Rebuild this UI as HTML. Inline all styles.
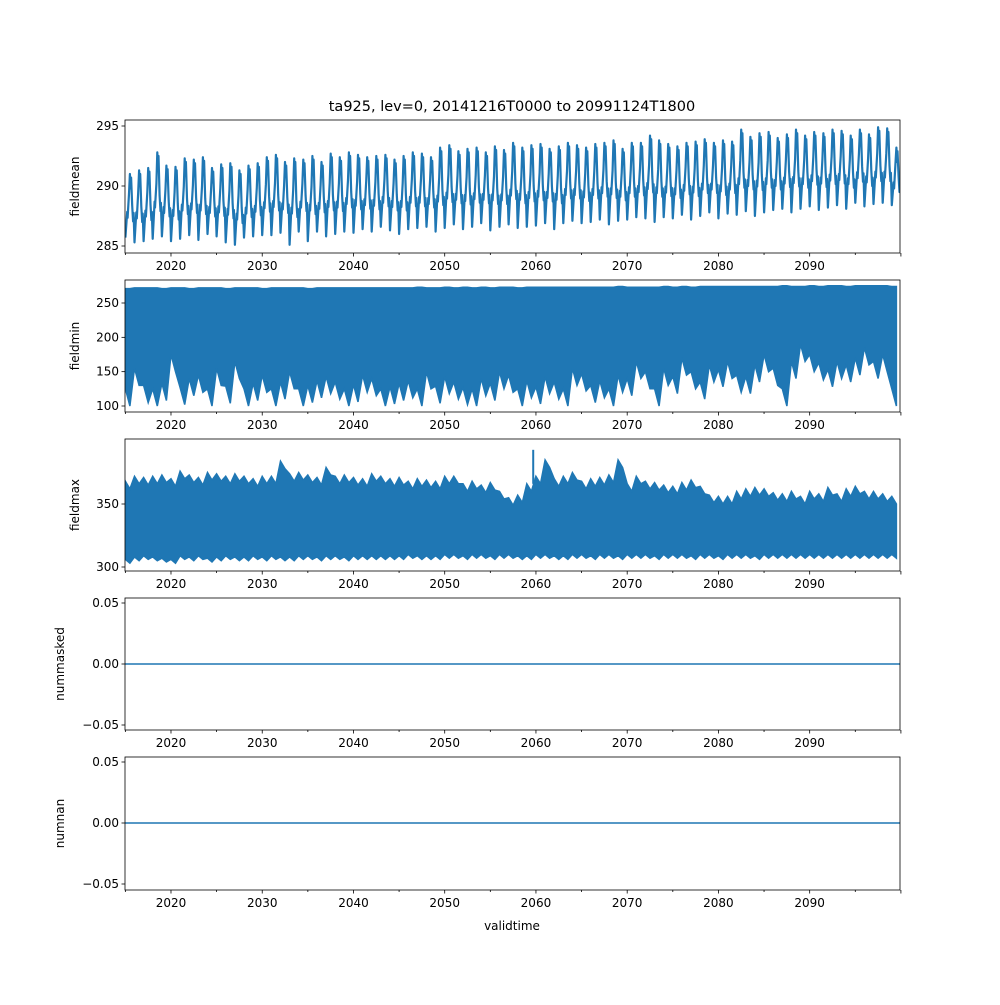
<!DOCTYPE html>
<html><head><meta charset="utf-8"><style>
body{margin:0;background:#fff;font-family:"Liberation Sans","DejaVu Sans",sans-serif}
svg text{font-family:"DejaVu Sans","Liberation Sans",sans-serif;font-size:12px;fill:#000}
</style></head><body>
<svg id="c" width="1000" height="1000" xmlns="http://www.w3.org/2000/svg">
<rect width="1000" height="1000" fill="#fff"/>
<text x="512" y="111" text-anchor="middle" style="font-size:14.5px">ta925, lev=0, 20141216T0000 to 20991124T1800</text>
<text x="512" y="930" text-anchor="middle">validtime</text>
</svg>
<script>
const years=[];for(let y=2015;y<=2099;y++)years.push(y);
const meanMax=[291,291.3,291.5,292.8,291.7,291.6,292.3,292.2,292.4,291.5,291.8,291.9,291.3,291.7,291.9,292.4,292.6,292,292.3,292.2,292.5,292,292.7,292.4,292.8,292.6,292.4,292.5,292.6,292.2,292.5,292.8,292.7,292.4,293.2,293.4,292.9,293.1,293.2,292.8,293.3,293,293.6,293.2,293.4,293.5,293.1,293.3,293.6,293.4,293.2,293.5,293.6,293.8,293.1,293.6,293.6,294.2,293.8,293.5,293.3,293.6,293.7,293.9,293.6,293.8,293.7,294.7,294.1,294.4,294.5,294,294.3,294.7,294.2,294.5,294.4,294.7,294.6,294.2,294.7,294.3,294.9,294.8,293.2];
const meanMin=[285.7,285.3,285.4,285.6,285.8,285.4,285.6,285.9,285.5,286,285.8,285.3,285.1,285.7,285.8,285.9,285.9,286.1,285.1,286.2,285.4,286.2,285.8,286,286.2,286.1,286.4,286.2,286.6,286.3,286,286.4,286.5,286.6,286.2,286.5,286.8,286.4,286.6,286.9,286.3,286.6,286.8,286.5,286.6,286.7,286.9,286.4,286.9,287.1,286.9,287,287.2,286.8,287.1,287.2,287.4,287.3,287,287.4,287.3,287.6,287.2,287.5,287.8,287.3,287.7,287.6,287.9,287.5,287.8,288,288.1,287.8,288.1,288.3,288,288.2,288.4,288.1,288.6,288.3,288.5,288.6,288.4];
const minTop=[271,272,272,272,271,272,272,271,272,272,272,271,272,272,272,271,272,272,272,272,271,272,272,272,272,272,272,272,272,272,272,272,273,272,272,273,272,273,272,273,272,273,273,272,273,273,273,273,273,273,273,273,273,273,274,273,273,273,273,274,273,274,273,274,274,274,274,274,274,274,274,274,275,274,274,275,274,275,275,274,275,275,275,275,274];
const minLow=[100,130,105,100,108,150,102,115,120,100,130,104,140,100,108,120,100,110,125,100,105,112,118,110,100,106,120,115,100,103,108,112,100,125,104,118,110,102,100,115,108,125,120,100,112,103,118,110,100,130,122,105,112,100,120,115,140,125,100,130,118,145,125,110,135,128,140,120,118,135,150,130,100,140,165,150,138,128,140,135,145,160,140,150,100];
const maxTop=[368,372,371,372,373,370,376,373,371,375,374,372,374,372,370,372,372,384,374,375,373,371,379,372,373,371,370,374,372,370,371,368,370,369,368,372,372,366,368,365,367,360,355,357,366,372,385,370,372,375,368,370,371,373,385,366,372,368,367,365,364,367,369,364,357,356,356,360,362,363,362,359,358,360,356,360,358,363,358,362,364,360,360,358,356];
const maxLow=[303,305,306,305,304,303,306,305,306,304,305,306,305,305,306,305,306,305,305,306,306,305,306,306,305,306,306,306,306,306,306,307,306,306,306,307,307,306,307,307,306,307,307,306,306,307,307,306,306,307,307,306,307,307,306,307,307,307,306,307,307,307,306,307,307,306,307,307,307,306,307,307,307,307,307,307,307,307,307,307,307,307,307,307,307];
const spikeYear=2059.7, spikeVal=393;
const xTicks=[2020,2030,2040,2050,2060,2070,2080,2090];
const NS="http://www.w3.org/2000/svg",svg=document.getElementById('c');
const X0=125,X1=900,T0=2014.96,T1=2099.9;
const xs=t=>X0+(t-T0)/(T1-T0)*(X1-X0);
function el(tag,attrs,parent){const e=document.createElementNS(NS,tag);for(const k in attrs)e.setAttribute(k,attrs[k]);(parent||svg).appendChild(e);return e;}
const panels=[
 {name:'fieldmean',top:120,bot:253,v0:285,p0:246,v1:295,p1:126,ticks:[285,290,295],lab:['285','290','295']},
 {name:'fieldmin',top:280,bot:412,v0:100,p0:406,v1:250,p1:303,ticks:[100,150,200,250],lab:['100','150','200','250']},
 {name:'fieldmax',top:439,bot:571,v0:300,p0:567,v1:350,p1:504,ticks:[300,350],lab:['300','350']},
 {name:'nummasked',top:598,bot:730,v0:-0.05,p0:725,v1:0.05,p1:603,ticks:[-0.05,0,0.05],lab:['−0.05','0.00','0.05']},
 {name:'numnan',top:757,bot:890,v0:-0.05,p0:884,v1:0.05,p1:762,ticks:[-0.05,0,0.05],lab:['−0.05','0.00','0.05']}];
panels.forEach((p,i)=>{
 const ys=v=>p.p0+(v-p.v0)/(p.v1-p.v0)*(p.p1-p.p0);
 const g=el('g',{});
 
 
 const cp=el('clipPath',{id:'cp'+i},g);el('rect',{x:X0,y:p.top,width:X1-X0,height:p.bot-p.top},cp);
 const d=el('g',{'clip-path':'url(#cp'+i+')'},g);
 
 
 if(i===0){
  let pts=[];
  years.forEach((y,k)=>{const mx=meanMax[k],mn=meanMin[k],mid=(mx+mn)/2;
   pts.push([y+0.0,mn],[y+0.2,mid-0.5],[y+0.25,mid-1],[y+0.4,mid+1],[y+0.5,mx],[y+0.58,mx-1.2],[y+0.63,mx-0.3],[y+0.75,mid],[y+0.85,mid-1.3],[y+0.9,mid-0.6]);});
  el('path',{d:'M'+pts.map(q=>xs(q[0]).toFixed(1)+','+ys(q[1]).toFixed(1)).join('L'),fill:'none',stroke:'#1f77b4','stroke-width':2.2,'stroke-linejoin':'round'},d);
 } else if(i===1||i===2){
  const top=i===1?minTop:maxTop,low=i===1?minLow:maxLow;
  let up=[],dn=[];
  years.forEach((y,k)=>{up.push([y,top[k]],[y+0.5,top[k]-(i===2?6:0)]);dn.push([y,low[k]+(i===1?25:3)],[y+0.5,low[k]]);});
  const poly=up.concat(dn.reverse());
  el('path',{d:'M'+poly.map(q=>xs(q[0]).toFixed(1)+','+ys(q[1]).toFixed(1)).join('L')+'Z',fill:'#1f77b4',stroke:'#1f77b4','stroke-width':1.5},d);
  if(i===2) el('line',{x1:xs(spikeYear),x2:xs(spikeYear),y1:ys(maxTop[44]),y2:ys(spikeVal),stroke:'#1f77b4','stroke-width':2},d);
 } else {
  el('line',{x1:X0,x2:X1,y1:ys(0),y2:ys(0),stroke:'#1f77b4','stroke-width':1.6},d);
 }
 el('rect',{x:X0,y:p.top,width:X1-X0,height:p.bot-p.top,fill:'none',stroke:'#000','stroke-width':0.8},g);
 p.ticks.forEach((t,j)=>{const y=ys(t);el('line',{x1:X0-3.5,x2:X0,y1:y,y2:y,stroke:'#000','stroke-width':0.8},g);
  const tx=el('text',{x:X0-6,y:y+4,'text-anchor':'end'},g);tx.textContent=p.lab[j];
  
  });
 for(let y=2015;y<=2100;y+=5){const x=xs(y);el('line',{x1:x,x2:x,y1:p.bot,y2:p.bot+(y%10===0?3.5:2),stroke:'#000','stroke-width':0.8},g);}
 xTicks.forEach(t=>{const tx=el('text',{x:xs(t),y:p.bot+17,'text-anchor':'middle'},g);tx.textContent=t;
  
  });
 const yl=el('text',{x:0,y:0,'text-anchor':'middle',transform:`translate(${i<3?79:64},${(p.top+p.bot)/2}) rotate(-90)`},g);
 yl.textContent=p.name;
 
 
});
</script>
</body></html>
